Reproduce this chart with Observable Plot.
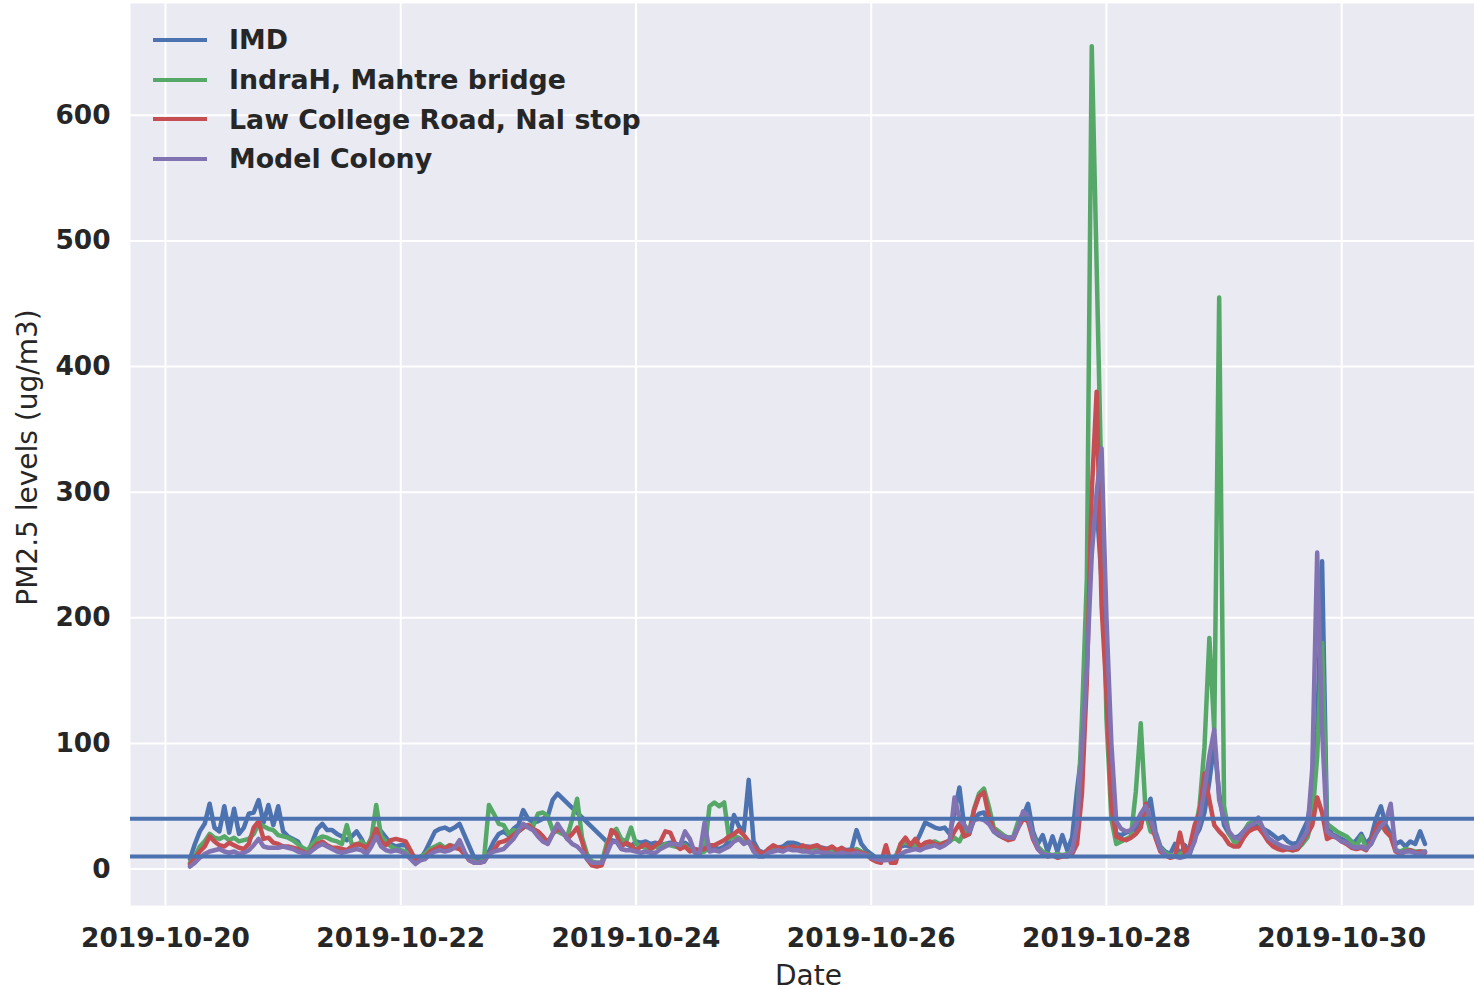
<!DOCTYPE html>
<html>
<head>
<meta charset="utf-8">
<script src="https://cdn.jsdelivr.net/npm/d3@7"></script>
<script src="https://cdn.jsdelivr.net/npm/@observablehq/plot@0.6"></script>
<style>
  html, body { margin: 0; padding: 0; background: #ffffff; }
  #wrap { position: relative; width: 1474px; height: 990px; overflow: hidden; font-family: "DejaVu Sans", sans-serif; color: #262626; }
  #legend { position: absolute; left: 153px; top: 20px; }
  .item { display: flex; align-items: center; height: 39.7px; }
  .sw { width: 54px; height: 4px; margin-right: 22px; }
  .lab { font-size: 26.8px; font-weight: bold; color: #262626; white-space: nowrap; }
</style>
</head>
<body>
<div id="wrap"><div id="legend"></div></div>
<script>
// ---- data (hourly PM2.5, ug/m3), one sub-array per day starting 2019-10-20 05:00, then each midnight ----
const seriesNames = ["IMD", "IndraH, Mahtre bridge", "Law College Road, Nal stop", "Model Colony"];
const seriesColors = ["#4C72B0", "#55A868", "#C44E52", "#8172B2"];
const firstHour = 5;

const imd = [
  [8,20,30,36,52,33,30,50,29,48,28,33,44,45,55,37,51,35,50],
  [30,26,24,22,15,12,22,32,36,31,31,28,26,23,26,30,24,16,25,31,30,25,20,18],
  [19,19,13,9,8,14,22,30,32,33,31,33,36,null,null,9,8,6,14,22,28,30,27,32],
  [35,47,40,37,38,40,42,55,60,null,null,null,null,null,null,null,null,null,22,23,22,21,20,18],
  [22,21,22,20,21,19,20,21,20,19,21,18,15,14,15,16,17,16,18,22,43,34,30,71],
  [22,15,13,15,16,17,18,21,21,20,18,18,17,18,17,16,15,15,16,15,16,31,20,15],
  [12,9,8,8,9,10,18,19,18,20,28,37,35,33,32,33,28,45,65,33,28,40,44,45],
  [38,30,27,25,24,25,35,42,52,30,20,27,14,26,14,27,15,25,63,95,200,270,290,230],
  [150,60,28,27,29,30,32,38,45,56,30,18,14,12,20,11,19,12,25,32,45,70,100,60],
  [35,28,25,26,30,32,33,35,32,30,27,24,26,22,20,21,30,38,60,110,245,35,28,26],
  [24,22,20,23,28,20,25,40,50,35,28,20,22,18,22,20,30,20]
];
const indrah = [
  [5,10,18,22,28,25,24,26,23,25,22,23,24,28,36,34,32,31,27],
  [26,25,23,20,17,15,20,24,26,25,23,22,20,35,20,19,22,18,24,51,26,22,18,16],
  [15,14,10,7,10,12,16,18,20,17,19,18,17,12,8,6,5,8,51,44,36,35,28,31],
  [30,33,35,34,44,45,42,31,30,28,26,40,56,25,12,6,5,5,20,28,32,24,22,33],
  [20,18,17,16,18,17,20,19,18,17,19,15,14,13,14,50,53,50,53,24,26,25,22,21],
  [17,14,12,15,17,16,16,17,16,17,16,16,17,15,15,14,14,13,14,13,14,16,14,12],
  [10,8,8,9,8,10,20,21,20,19,18,20,21,22,20,21,22,25,22,30,30,48,60,64],
  [50,33,30,27,25,26,38,44,40,27,18,14,12,11,12,11,12,14,30,120,231,655,480,300],
  [120,40,20,22,24,26,62,116,45,30,28,17,13,11,10,12,14,16,30,50,97,184,110,455],
  [50,28,22,20,30,36,38,39,30,24,20,18,17,16,15,16,20,25,40,90,180,36,33,30],
  [28,26,22,18,26,17,20,30,35,30,26,15,14,16,15,14,14,14]
];
const lawCollege = [
  [4,9,14,18,26,22,19,18,21,19,17,16,20,33,38,24,25,21,20],
  [18,18,17,16,14,12,16,20,22,19,17,17,16,15,18,20,19,17,22,32,22,19,23,24],
  [23,22,15,7,7,10,14,16,18,16,19,17,16,12,7,5,5,6,12,15,21,22,24,27],
  [30,33,35,32,30,26,21,28,32,30,24,28,33,22,8,3,2,3,15,31,28,18,21,19],
  [15,18,20,16,19,22,30,29,20,16,18,14,16,15,16,19,19,21,23,26,28,31,27,22],
  [18,14,12,16,19,17,16,17,18,16,19,17,18,19,16,16,18,15,17,14,15,14,13,12],
  [8,6,5,19,5,5,20,25,19,24,18,21,22,20,19,21,23,30,36,26,28,47,58,61],
  [42,31,28,25,23,24,33,40,38,24,16,12,10,11,9,10,10,12,20,60,150,300,380,210],
  [140,50,26,24,23,25,28,33,52,38,25,14,11,9,10,29,12,18,35,45,76,55,35,30],
  [26,20,18,18,25,30,32,33,28,22,18,16,15,16,15,16,22,28,35,57,45,24,26,25],
  [22,20,17,16,17,15,22,32,39,30,26,14,12,14,15,13,14,13]
];
const modelColony = [
  [2,5,9,12,14,15,16,14,13,14,12,13,15,19,24,18,17,17,17],
  [18,17,16,14,13,12,15,18,20,18,16,14,13,14,15,16,15,12,18,26,18,15,14,15],
  [14,12,8,4,7,8,12,14,15,14,15,17,23,14,7,5,5,6,12,14,15,16,20,24],
  [30,36,33,31,26,22,20,28,36,30,24,20,18,14,8,5,5,5,12,21,22,16,15,15],
  [14,13,14,13,13,16,18,20,20,19,30,24,13,12,37,14,15,14,16,18,22,24,20,22],
  [14,10,10,13,14,15,14,16,15,15,14,14,13,14,13,13,12,12,13,12,12,13,12,11],
  [9,8,7,7,8,9,12,14,15,16,15,17,18,19,17,19,22,57,40,35,30,39,40,39],
  [36,30,28,26,25,25,33,46,42,26,16,12,11,11,10,11,11,14,35,95,160,250,300,335],
  [200,100,38,32,30,31,36,44,50,40,28,16,11,10,10,9,10,13,22,38,63,90,111,55],
  [40,30,25,24,30,34,36,41,32,25,22,20,18,17,17,18,24,30,80,252,111,30,27,25],
  [22,21,18,17,18,16,20,28,34,38,52,15,13,14,14,13,12,14]
];
const guidelineLevels = [40, 10];
const yTicks = [0, 100, 200, 300, 400, 500, 600];
const xTickLabels = ["2019-10-20", "2019-10-22", "2019-10-24", "2019-10-26", "2019-10-28", "2019-10-30"];
const yLabel = "PM2.5 levels (ug/m3)";
const xLabel = "Date";

// ---- build tables ----
const HOUR = 3600e3;
const t0 = Date.UTC(2019, 9, 20);
function toRows(days) {
  const rows = [];
  days.forEach((vals, d) => {
    const start = d === 0 ? firstHour : 24 * d;
    vals.forEach((v, i) => {
      if (v != null) rows.push({date: new Date(t0 + (start + i) * HOUR), value: v});
    });
  });
  return rows;
}
const allSeries = [imd, indrah, lawCollege, modelColony].map(toRows);
const parseDay = d3.utcParse("%Y-%m-%d");
const xTicks = xTickLabels.map(parseDay);
const fmt = d3.utcFormat("%Y-%m-%d");

const chart = Plot.plot({
  width: 1474,
  height: 990,
  marginLeft: 130,
  marginRight: 0,
  marginTop: 3,
  marginBottom: 85,
  style: {fontFamily: "DejaVu Sans", fontSize: "26px", color: "#262626", background: "white", overflow: "visible"},
  x: {type: "utc", domain: [new Date(t0 - 7.14 * HOUR), new Date(t0 + 267.1 * HOUR)]},
  y: {domain: [-29, 689]},
  marks: [
    Plot.frame({fill: "#EAEAF2", stroke: "none"}),
    Plot.ruleY(yTicks, {stroke: "white", strokeWidth: 2}),
    Plot.ruleX(xTicks, {stroke: "white", strokeWidth: 2}),
    ...allSeries.map((rows, k) => Plot.line(rows, {x: "date", y: "value", stroke: seriesColors[k], strokeWidth: 4.5, strokeLinejoin: "round"})),
    Plot.ruleY(guidelineLevels, {stroke: seriesColors[0], strokeWidth: 4}),
    Plot.axisY(yTicks, {tickSize: 0, tickPadding: 20, fontWeight: "bold", fontSize: 26.4, label: null}),
    Plot.axisX(xTicks, {tickSize: 0, tickPadding: 23, fontWeight: "bold", fontSize: 26.4, tickFormat: fmt, label: null}),
    Plot.text([xLabel], {frameAnchor: "bottom", dy: 79, dx: 6, fontSize: 28, fill: "#262626"}),
    Plot.text([yLabel], {frameAnchor: "left", textAnchor: "middle", rotate: -90, dx: -102, dy: 3, fontSize: 28, fill: "#262626"})
  ]
});
document.getElementById("wrap").prepend(chart);

// ---- legend ----
const legend = document.getElementById("legend");
seriesNames.forEach((name, k) => {
  const item = document.createElement("div");
  item.className = "item";
  const sw = document.createElement("div");
  sw.className = "sw";
  sw.style.background = seriesColors[k];
  const lab = document.createElement("span");
  lab.className = "lab";
  lab.textContent = name;
  item.append(sw, lab);
  legend.append(item);
});
</script>
</body>
</html>
